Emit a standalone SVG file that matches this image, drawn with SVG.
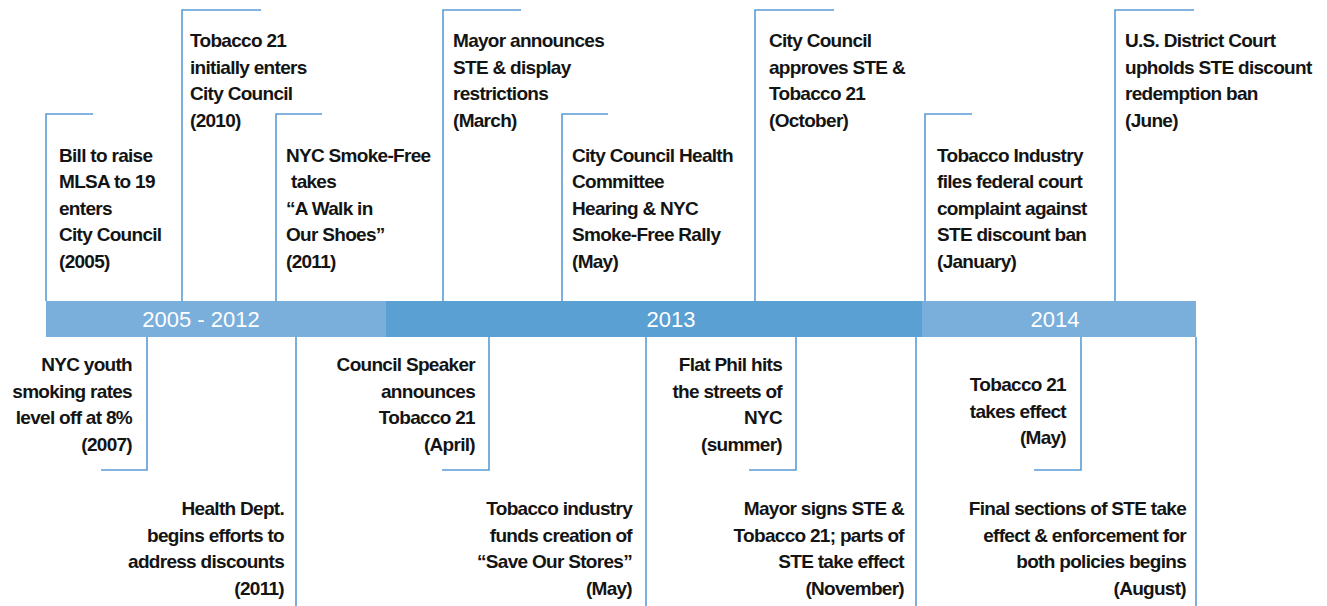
<svg xmlns="http://www.w3.org/2000/svg" width="1327" height="606" viewBox="0 0 1327 606">
  <style>
    .lbl { font-family: 'Liberation Sans', Arial, sans-serif; font-weight: bold; font-size: 19px; letter-spacing: -0.7px; fill: #141414; }
    .end { text-anchor: end; }
    .era { font-family: 'Liberation Sans', Arial, sans-serif; font-size: 22px; fill: #ffffff; text-anchor: middle; }
    .conn { fill: none; stroke: #5B9BD5; stroke-width: 1.6; }
  </style>
  <rect width="1327" height="606" fill="#ffffff"/>

  <!-- timeline bar -->
  <g id="timeline">
    <rect x="46" y="301" width="340" height="36" fill="#7AAEDB"/>
    <rect x="386" y="301" width="536" height="36" fill="#5AA0D3"/>
    <rect x="922" y="301" width="274" height="36" fill="#7AAEDB"/>
    <text class="era" x="201" y="327">2005 - 2012</text>
    <text class="era" x="671" y="327">2013</text>
    <text class="era" x="1055" y="327">2014</text>
  </g>

  <!-- leader lines from the bar to each event -->
  <g id="connectors" class="conn">
    <path d="M46,301 V114 H93"/>
    <path d="M182,301 V10 H261"/>
    <path d="M276,301 V114 H322"/>
    <path d="M443,301 V10 H521"/>
    <path d="M562,301 V114 H608"/>
    <path d="M755,301 V10 H834"/>
    <path d="M925,301 V114 H972"/>
    <path d="M1115,301 V10 H1194"/>
    <path d="M147,337 V470 H101"/>
    <path d="M296,337 V606"/>
    <path d="M489,337 V470 H442"/>
    <path d="M646,337 V606"/>
    <path d="M796,337 V470 H749"/>
    <path d="M916,337 V606"/>
    <path d="M1081,337 V470 H1034"/>
    <path d="M1196,337 V606"/>
  </g>

  <!-- events above the bar -->
  <g id="ev-2005-bill">
    <text class="lbl" x="59" y="161.5">Bill to raise</text>
    <text class="lbl" x="59" y="188">MLSA to 19</text>
    <text class="lbl" x="59" y="214.5">enters</text>
    <text class="lbl" x="59" y="241">City Council</text>
    <text class="lbl" x="59" y="267.5">(2005)</text>
  </g>
  <g id="ev-2010-t21">
    <text class="lbl" x="190" y="47">Tobacco 21</text>
    <text class="lbl" x="190" y="73.5">initially enters</text>
    <text class="lbl" x="190" y="100">City Council</text>
    <text class="lbl" x="190" y="126.5">(2010)</text>
  </g>
  <g id="ev-2011-walk">
    <text class="lbl" x="286" y="161.5">NYC Smoke-Free</text>
    <text class="lbl" x="291" y="188">takes</text>
    <text class="lbl" x="286" y="214.5">“A Walk in</text>
    <text class="lbl" x="286" y="241">Our Shoes”</text>
    <text class="lbl" x="286" y="267.5">(2011)</text>
  </g>
  <g id="ev-2013-mayor-march">
    <text class="lbl" x="453" y="47">Mayor announces</text>
    <text class="lbl" x="453" y="73.5">STE &amp; display</text>
    <text class="lbl" x="453" y="100">restrictions</text>
    <text class="lbl" x="453" y="126.5">(March)</text>
  </g>
  <g id="ev-2013-hearing">
    <text class="lbl" x="572" y="161.5">City Council Health</text>
    <text class="lbl" x="572" y="188">Committee</text>
    <text class="lbl" x="572" y="214.5">Hearing &amp; NYC</text>
    <text class="lbl" x="572" y="241">Smoke-Free Rally</text>
    <text class="lbl" x="572" y="267.5">(May)</text>
  </g>
  <g id="ev-2013-approves">
    <text class="lbl" x="769" y="47">City Council</text>
    <text class="lbl" x="769" y="73.5">approves STE &amp;</text>
    <text class="lbl" x="769" y="100">Tobacco 21</text>
    <text class="lbl" x="769" y="126.5">(October)</text>
  </g>
  <g id="ev-2014-complaint">
    <text class="lbl" x="937" y="161.5">Tobacco Industry</text>
    <text class="lbl" x="937" y="188">files federal court</text>
    <text class="lbl" x="937" y="214.5">complaint against</text>
    <text class="lbl" x="937" y="241">STE discount ban</text>
    <text class="lbl" x="937" y="267.5">(January)</text>
  </g>
  <g id="ev-2014-court">
    <text class="lbl" x="1125" y="47">U.S. District Court</text>
    <text class="lbl" x="1125" y="73.5">upholds STE discount</text>
    <text class="lbl" x="1125" y="100">redemption ban</text>
    <text class="lbl" x="1125" y="126.5">(June)</text>
  </g>

  <!-- events below the bar -->
  <g id="ev-2007-youth">
    <text class="lbl end" x="132" y="371">NYC youth</text>
    <text class="lbl end" x="132" y="397.5">smoking rates</text>
    <text class="lbl end" x="132" y="424">level off at 8%</text>
    <text class="lbl end" x="132" y="450.5">(2007)</text>
  </g>
  <g id="ev-2011-health">
    <text class="lbl end" x="284" y="515">Health Dept.</text>
    <text class="lbl end" x="284" y="541.5">begins efforts to</text>
    <text class="lbl end" x="284" y="568">address discounts</text>
    <text class="lbl end" x="284" y="594.5">(2011)</text>
  </g>
  <g id="ev-2013-speaker">
    <text class="lbl end" x="475" y="371">Council Speaker</text>
    <text class="lbl end" x="475" y="397.5">announces</text>
    <text class="lbl end" x="475" y="424">Tobacco 21</text>
    <text class="lbl end" x="475" y="450.5">(April)</text>
  </g>
  <g id="ev-2013-sos">
    <text class="lbl end" x="632" y="515">Tobacco industry</text>
    <text class="lbl end" x="632" y="541.5">funds creation of</text>
    <text class="lbl end" x="632" y="568">“Save Our Stores”</text>
    <text class="lbl end" x="632" y="594.5">(May)</text>
  </g>
  <g id="ev-2013-flatphil">
    <text class="lbl end" x="782" y="371">Flat Phil hits</text>
    <text class="lbl end" x="782" y="397.5">the streets of</text>
    <text class="lbl end" x="782" y="424">NYC</text>
    <text class="lbl end" x="782" y="450.5">(summer)</text>
  </g>
  <g id="ev-2013-signs">
    <text class="lbl end" x="904" y="515">Mayor signs STE &amp;</text>
    <text class="lbl end" x="904" y="541.5">Tobacco 21; parts of</text>
    <text class="lbl end" x="904" y="568">STE take effect</text>
    <text class="lbl end" x="904" y="594.5">(November)</text>
  </g>
  <g id="ev-2014-t21-effect">
    <text class="lbl end" x="1066" y="391">Tobacco 21</text>
    <text class="lbl end" x="1066" y="417.5">takes effect</text>
    <text class="lbl end" x="1066" y="444">(May)</text>
  </g>
  <g id="ev-2014-final">
    <text class="lbl end" x="1186" y="515">Final sections of STE take</text>
    <text class="lbl end" x="1186" y="541.5">effect &amp; enforcement for</text>
    <text class="lbl end" x="1186" y="568">both policies begins</text>
    <text class="lbl end" x="1186" y="594.5">(August)</text>
  </g>
</svg>
